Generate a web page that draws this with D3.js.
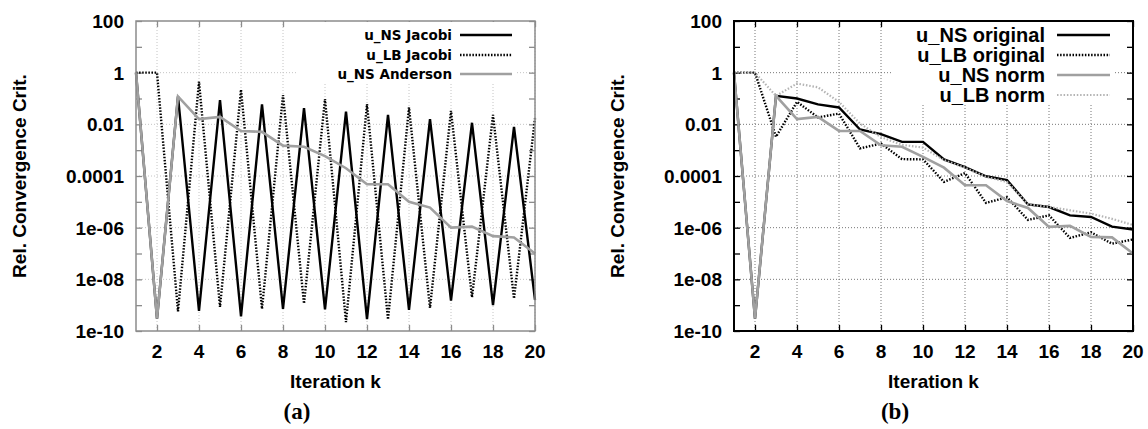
<!DOCTYPE html>
<html>
<head>
<meta charset="utf-8">
<script src="https://cdn.jsdelivr.net/npm/d3@7"></script>
<style>
  body { margin: 0; background: #fff; }
  svg { display: block; }
</style>
</head>
<body>
<svg id="chart" width="1148" height="429"></svg>
<script>
// iterations 1..20
const iterations = d3.range(1, 21);

// panel (a)
const nsJacobi = [1, 3e-10, 0.12, 6e-10, 0.087, 3.7e-10, 0.059, 7.2e-10, 0.042, 6.9e-10,
    0.031, 2.9e-10, 0.023, 6.6e-10, 0.016, 1.5e-9, 0.0115, 1e-9, 0.008, 1.6e-9];
const lbJacobi = [1, 1, 5.8e-10, 0.45, 8.5e-10, 0.22, 7.2e-10, 0.135, 1.15e-9, 0.095,
    2.2e-10, 0.06, 2.8e-10, 0.045, 7.8e-10, 0.033, 2e-9, 0.023, 1.8e-9, 0.017];
const nsAnderson = [1, 3e-10, 0.12, 0.016, 0.0195, 0.0055, 0.0051, 0.0015, 0.00135, 5.9e-4,
    2e-4, 4.8e-5, 4.8e-5, 1e-5, 6e-6, 1e-6, 1.1e-6, 4.7e-7, 4.2e-7, 1e-7];

// panel (b)
const nsOriginal = [1, 3e-10, 0.126, 0.1, 0.059, 0.045, 0.0063, 0.0042, 0.0021, 0.0021,
    4.4e-4, 2.2e-4, 9.8e-5, 6.9e-5, 7.9e-6, 6.3e-6, 3e-6, 2.6e-6, 1.1e-6, 8.5e-7];
const lbOriginal = [1, 1, 0.0033, 0.074, 0.0186, 0.026, 0.00117, 0.0018, 4.5e-4, 4.4e-4,
    5.9e-5, 1.3e-4, 9.1e-6, 1.5e-5, 2e-6, 3e-6, 4e-7, 6.6e-7, 2.4e-7, 3.5e-7];
const nsNorm = [1, 3e-10, 0.126, 0.016, 0.0195, 0.0056, 0.0055, 0.00155, 0.00135, 5.5e-4,
    2.1e-4, 4.4e-5, 4.4e-5, 1.07e-5, 5.8e-6, 1.07e-6, 1.17e-6, 4.4e-7, 4.2e-7, 1e-7];
const lbNorm = [1, 1, 0.126, 0.38, 0.27, 0.074, 0.0107, 0.0032, 0.0016, 0.00126,
    4.1e-4, 2.1e-4, 9.3e-5, 5.9e-5, 8.1e-6, 6.3e-6, 4.7e-6, 3.5e-6, 2.2e-6, 1.26e-6];

const yTickValues = [100, 1, 0.01, 0.0001, 1e-6, 1e-8, 1e-10];
const yTickLabels = ["100", "1", "0.01", "0.0001", "1e-06", "1e-08", "1e-10"];
const yMinorValues = [10, 0.1, 0.001, 1e-5, 1e-7, 1e-9];
const xTickValues = [2, 4, 6, 8, 10, 12, 14, 16, 18, 20];

const xTitle = "Iteration k";
const yTitle = "Rel. Convergence Crit.";

const svg = d3.select('#chart');
const tickFont = '"Liberation Sans", Arial, sans-serif';
const fontSize = 19;

const drawPanel = (cfg) => {
    const left = cfg.left, right = cfg.left + 399, top = 21, bottom = 331;

    let scaleX = d3.scaleLinear().domain([1, 20]).range([left, right]);
    let scaleY = d3.scaleLog().domain([1e-10, 100]).range([bottom, top]);

    const g = svg.append('g');

    // grid (dotted)
    const grid = g.append('g');
    grid.selectAll('.gx').data(xTickValues).join('line')
        .attr('x1', d => scaleX(d)).attr('x2', d => scaleX(d))
        .attr('y1', top).attr('y2', bottom);
    grid.selectAll('.gy').data(yTickValues.slice(1, -1)).join('line')
        .attr('class', 'gy')
        .attr('x1', left).attr('x2', right)
        .attr('y1', d => scaleY(d)).attr('y2', d => scaleY(d));
    grid.selectAll('line')
        .attr('stroke', cfg.gridColor)
        .attr('stroke-width', 1)
        .attr('stroke-dasharray', '1,2');

    // inward ticks on all four sides
    const tl = 6;
    const axisL = d3.axisLeft(scaleY).tickValues(yTickValues.concat(yMinorValues)).tickSize(-tl).tickFormat('');
    const axisR = d3.axisRight(scaleY).tickValues(yTickValues.concat(yMinorValues)).tickSize(-tl).tickFormat('');
    const axisB = d3.axisBottom(scaleX).tickValues(xTickValues).tickSize(-tl).tickFormat('');
    const axisT = d3.axisTop(scaleX).tickValues(xTickValues).tickSize(-tl).tickFormat('');
    [[axisL, `translate(${left},0)`], [axisR, `translate(${right},0)`],
     [axisB, `translate(0,${bottom})`], [axisT, `translate(0,${top})`]].forEach(([ax, tr]) => {
        const a = g.append('g').attr('transform', tr).call(ax);
        a.select('.domain').remove();
        a.selectAll('line').attr('stroke', cfg.axisColor).attr('stroke-width', 1.3);
    });

    // tick labels
    g.append('g').selectAll('text').data(yTickValues).join('text')
        .attr('x', left - 12)
        .attr('y', d => scaleY(d))
        .attr('dy', '0.36em')
        .attr('text-anchor', 'end')
        .attr('font-family', tickFont).attr('font-weight', 'bold').attr('font-size', fontSize)
        .text((d, i) => yTickLabels[i]);
    g.append('g').selectAll('text').data(xTickValues).join('text')
        .attr('x', d => scaleX(d))
        .attr('y', bottom + 27)
        .attr('text-anchor', 'middle')
        .attr('font-family', tickFont).attr('font-weight', 'bold').attr('font-size', fontSize)
        .text(d => d);

    // axis titles
    g.append('text')
        .attr('x', (left + right) / 2).attr('y', 388)
        .attr('text-anchor', 'middle')
        .attr('font-family', tickFont).attr('font-weight', 'bold').attr('font-size', fontSize)
        .text(xTitle);
    g.append('text')
        .attr('transform', `translate(${left - 110},${(top + bottom) / 2}) rotate(-90)`)
        .attr('text-anchor', 'middle')
        .attr('font-family', tickFont).attr('font-weight', 'bold').attr('font-size', fontSize)
        .text(yTitle);

    // caption
    g.append('text')
        .attr('x', left + 161).attr('y', 419)
        .attr('text-anchor', 'middle')
        .attr('font-family', '"Liberation Serif", "DejaVu Serif", serif')
        .attr('font-weight', 'bold')
        .attr('font-size', 23)
        .text(cfg.caption);

    // legend background
    const lg = cfg.legend;
    g.append('rect')
        .attr('x', lg.boxLeft).attr('y', top + 1)
        .attr('width', lg.sampleEnd + 3 - lg.boxLeft)
        .attr('height', lg.rowY[cfg.series.length - 1] + 9 - top - 1)
        .attr('fill', '#fff');

    // lines
    const line = d3.line().x((d, i) => scaleX(iterations[i])).y(d => scaleY(d));
    g.append('g').selectAll('path').data(cfg.series).join('path')
        .attr('d', s => line(s.values))
        .attr('fill', 'none')
        .attr('stroke', s => s.color)
        .attr('stroke-width', s => s.width)
        .attr('stroke-dasharray', s => s.dash)
        .attr('stroke-linejoin', 'miter');

    // legend entries
    const rows = g.append('g').selectAll('g').data(cfg.series).join('g');
    rows.append('text')
        .attr('x', lg.textEnd).attr('y', (s, i) => lg.rowY[i])
        .attr('dy', '0.35em')
        .attr('text-anchor', 'end')
        .attr('font-family', lg.font).attr('font-weight', 'bold').attr('font-size', lg.size)
        .text(s => s.name);
    rows.append('line')
        .attr('x1', lg.sampleStart).attr('x2', lg.sampleEnd)
        .attr('y1', (s, i) => lg.rowY[i]).attr('y2', (s, i) => lg.rowY[i])
        .attr('stroke', s => s.color)
        .attr('stroke-width', s => s.width)
        .attr('stroke-dasharray', s => s.dash);

    // frame
    g.append('rect')
        .attr('x', left).attr('y', top)
        .attr('width', right - left).attr('height', bottom - top)
        .attr('fill', 'none')
        .attr('stroke', cfg.axisColor)
        .attr('stroke-width', cfg.frameWidth);
};

drawPanel({
    left: 136,
    caption: "(a)",
    axisColor: '#8c8c8c',
    gridColor: '#c4c4c4',
    frameWidth: 1.5,
    series: [
        { name: "u_NS Jacobi", values: nsJacobi, color: '#000', width: 2.4, dash: null },
        { name: "u_LB Jacobi", values: lbJacobi, color: '#000', width: 2.4, dash: '1.5,1.6' },
        { name: "u_NS Anderson", values: nsAnderson, color: '#a0a0a0', width: 2.6, dash: null }
    ],
    legend: {
        boxLeft: 296, textEnd: 452, sampleStart: 460, sampleEnd: 512,
        rowY: [35, 55, 74], font: '"DejaVu Sans", sans-serif', size: 13.5
    }
});

drawPanel({
    left: 734,
    caption: "(b)",
    axisColor: '#000',
    gridColor: '#777',
    frameWidth: 2,
    series: [
        { name: "u_NS original", values: nsOriginal, color: '#000', width: 2.4, dash: null },
        { name: "u_LB original", values: lbOriginal, color: '#000', width: 2.4, dash: '1.5,1.6' },
        { name: "u_NS norm", values: nsNorm, color: '#a0a0a0', width: 2.6, dash: null },
        { name: "u_LB norm", values: lbNorm, color: '#b4b4b4', width: 2.2, dash: '1.5,1.8' }
    ],
    legend: {
        boxLeft: 891, textEnd: 1045, sampleStart: 1057, sampleEnd: 1110,
        rowY: [35, 55, 75, 95], font: tickFont, size: 20
    }
});
</script>
</body>
</html>
